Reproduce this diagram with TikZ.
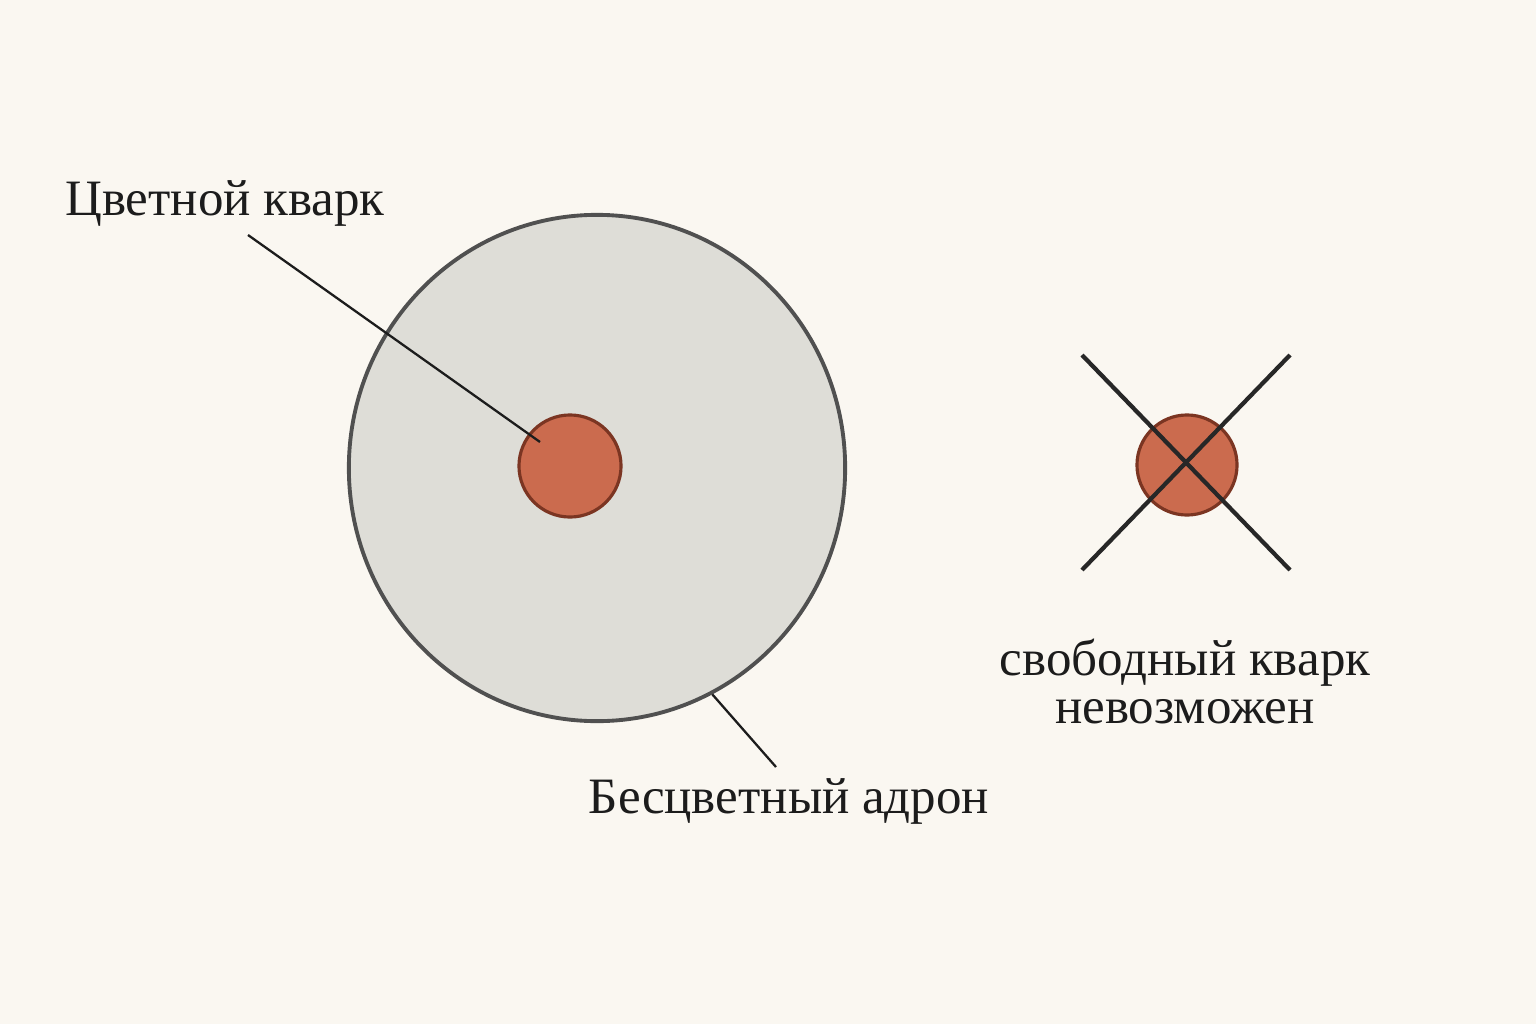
\documentclass[tikz,border=0pt]{standalone}
\usepackage{fontspec}
\usetikzlibrary{shapes.geometric}
\setmainfont{Liberation Serif}
\definecolor{paper}{HTML}{FAF7F1}
\definecolor{hadronfill}{HTML}{DEDDD7}
\definecolor{hadronline}{HTML}{505050}
\definecolor{quarkfill}{HTML}{CB6B4E}
\definecolor{quarkline}{HTML}{7B3522}
\definecolor{ink}{HTML}{1C1C1C}
\tikzset{
  hadron/.style={ellipse,draw=hadronline,fill=hadronfill,line width=1.1pt,inner sep=0pt,minimum width=4.96cm,minimum height=5.06cm},
  quark/.style={circle,draw=quarkline,fill=quarkfill,line width=0.9pt,inner sep=0pt,minimum size=1.02cm},
  lbl/.style={text=ink,font=\fontsize{14.5}{14.5}\selectfont,inner sep=0pt,anchor=base},
  leader/.style={draw=ink,line width=0.65pt},
  crossline/.style={draw=ink!95,line width=1.2pt}
}
\begin{document}
\begin{tikzpicture}[x=0.01cm,y=-0.01cm]
\fill[paper](0,0) rectangle (1536,1024);
\useasboundingbox(0,0) rectangle (1536,1024);
\begin{scope}
    \node[hadron] (hadron) at (597,468) {};
    \node[quark] (quarkin) at (570,466) {};
    \node[lbl] (colq) at (225,215) {Цветной кварк};
    \node[lbl] (colh) at (789,813) {Бесцветный адрон};
    \coordinate (colqtop) at (248,235);
    \coordinate (colqend) at (540,442);
    \coordinate (colhtop) at (776,767);
    \draw[leader] (colqtop) -- (colqend);
    \draw[leader] (hadron.-63) -- (colhtop);
\end{scope}
\begin{scope}
    \node[quark,minimum size=1.0cm] (quarkout) at (1187,465) {};
    \coordinate (xa) at (1082,355);
    \coordinate (xb) at (1290,570);
    \coordinate (xc) at (1290,355);
    \coordinate (xd) at (1082,570);
    \draw[crossline] (xa) -- (xb);
    \draw[crossline] (xc) -- (xd);
    \node[lbl,align=center,anchor=base] (free) at (1185,723) {свободный кварк\\[-0.9pt]невозможен};
\end{scope}
\end{tikzpicture}
\end{document}
